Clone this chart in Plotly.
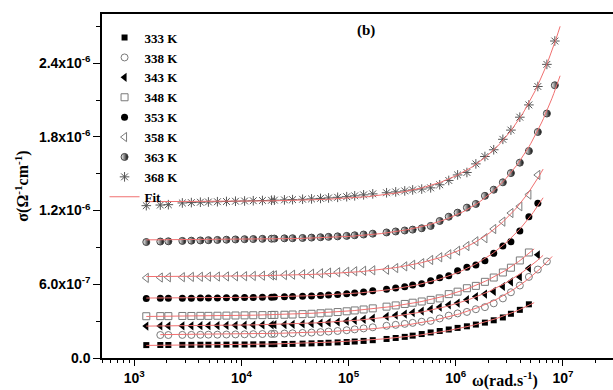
import numpy as np
import plotly.graph_objects as go

# angular frequency grid (rad/s)
omega = [1295, 1750, 2080, 2810, 3410, 4140, 4920, 5970, 7250, 8800,
         1.07e4, 1.29e4, 1.57e4, 1.91e4, 2.03e4, 2.52e4, 3.0e4, 3.72e4, 4.51e4, 5.47e4,
         6.5e4, 7.9e4, 9.6e4, 1.14e5, 1.38e5, 1.68e5, 2.26e5, 2.75e5, 3.34e5, 3.96e5,
         4.81e5, 5.83e5, 7.08e5, 8.6e5, 1.04e6, 1.27e6, 1.54e6, 1.87e6, 2.26e6, 2.75e6,
         3.27e6, 3.96e6, 4.81e6, 5.83e6, 7.08e6, 8.4e6]

# conductivity values in units of 1e-7 S/cm, with first grid index of each series
s333 = [1.05, 1.06, 1.06, 1.07, 1.07, 1.08, 1.08, 1.08, 1.09, 1.10, 1.10,
        1.11, 1.12, 1.13, 1.13, 1.14, 1.15, 1.17, 1.19, 1.21, 1.24,
        1.27, 1.30, 1.34, 1.39, 1.45, 1.55, 1.63, 1.72, 1.82,
        1.95, 2.08, 2.20, 2.32, 2.45, 2.58, 2.72, 2.88, 3.07, 3.30, 3.60, 3.92, 4.37]
s338 = [1.87, 1.87, 1.88, 1.88, 1.89, 1.90, 1.90, 1.91, 1.92, 1.93,
        1.94, 1.95, 1.96, 1.97, 1.99, 2.01, 2.04, 2.07, 2.11, 2.15,
        2.20, 2.26, 2.33, 2.41, 2.50, 2.62, 2.70, 2.78, 2.86, 2.95,
        3.02, 3.22, 3.45, 3.63, 3.75, 3.97, 4.14, 4.45, 4.85, 5.35, 5.90, 6.60, 7.20, 7.86]
s343 = [2.60, 2.61, 2.61, 2.62, 2.62, 2.63, 2.63, 2.64, 2.65, 2.66, 2.67,
        2.68, 2.69, 2.70, 2.71, 2.72, 2.74, 2.77, 2.80, 2.84, 2.88,
        2.93, 3.00, 3.07, 3.15, 3.24, 3.38, 3.48, 3.58, 3.70, 3.82,
        3.97, 4.15, 4.33, 4.47, 4.75, 5.00, 5.20, 5.42, 5.82, 6.20, 6.60, 7.30, 8.40]
s348 = [3.40, 3.41, 3.41, 3.42, 3.42, 3.43, 3.43, 3.44, 3.45, 3.46, 3.47,
        3.48, 3.49, 3.50, 3.51, 3.52, 3.54, 3.57, 3.60, 3.64, 3.69,
        3.74, 3.80, 3.87, 3.95, 4.04, 4.18, 4.28, 4.40, 4.50, 4.60,
        4.73, 4.85, 5.20, 5.40, 5.68, 5.87, 6.20, 6.55, 6.96, 7.35, 7.94, 8.59]
s353 = [4.85, 4.86, 4.86, 4.87, 4.87, 4.88, 4.88, 4.89, 4.90, 4.91, 4.92,
        4.93, 4.94, 4.95, 4.96, 4.98, 5.00, 5.02, 5.05, 5.08, 5.12,
        5.17, 5.23, 5.30, 5.38, 5.48, 5.60, 5.70, 5.80, 5.95, 6.05,
        6.29, 6.53, 6.70, 7.10, 7.38, 7.57, 7.92, 8.52, 9.11, 9.46, 10.33, 11.50, 12.60]
s358 = [6.52, 6.55, 6.57, 6.58, 6.60, 6.61, 6.62, 6.63, 6.64, 6.65, 6.66,
        6.68, 6.70, 6.72, 6.73, 6.75, 6.78, 6.82, 6.86, 6.90, 6.95,
        6.98, 7.02, 7.06, 7.10, 7.14, 7.18, 7.32, 7.46, 7.59, 7.72,
        7.98, 8.20, 8.44, 8.73, 9.11, 9.50, 9.75, 10.50, 11.10, 11.80, 12.35, 13.30, 14.90]
s363 = [9.44, 9.48, 9.50, 9.53, 9.55, 9.57, 9.59, 9.61, 9.63, 9.65, 9.67,
        9.68, 9.70, 9.71, 9.72, 9.74, 9.75, 9.77, 9.80, 9.83, 9.86,
        9.90, 9.94, 9.99, 10.05, 10.12, 10.22, 10.30, 10.38, 10.45,
        10.56, 10.75, 11.15, 11.50, 11.83, 12.24, 12.54, 13.20, 13.70, 14.30,
        15.05, 15.90, 16.85, 18.40, 19.90, 22.20]
s368 = [12.40, 12.45, 12.48, 12.62, 12.65, 12.68, 12.70, 12.72, 12.74, 12.76, 12.78,
        12.80, 12.82, 12.84, 12.85, 12.87, 12.89, 12.92, 12.95, 12.99, 13.03,
        13.08, 13.13, 13.20, 13.28, 13.36, 13.45, 13.52, 13.60, 13.68,
        13.75, 13.85, 14.10, 14.45, 14.90, 15.10, 15.80, 16.40, 16.95, 17.80,
        18.55, 19.60, 20.60, 22.10, 23.90, 25.80]

labels = ["333 K", "338 K", "343 K", "348 K", "353 K", "358 K", "363 K", "368 K"]
series = [s333, s338, s343, s348, s353, s358, s363, s368]
start_idx = [0, 1, 0, 0, 0, 0, 0, 0]

ytickvals = [0, 6e-7, 1.2e-6, 1.8e-6, 2.4e-6]
yticktext = ["0.0", "6.0x10<sup>-7</sup>", "1.2x10<sup>-6</sup>",
             "1.8x10<sup>-6</sup>", "2.4x10<sup>-6</sup>"]
xtickvals = [1e3, 1e4, 1e5, 1e6, 1e7]
xticktext = ["10<sup>3</sup>", "10<sup>4</sup>", "10<sup>5</sup>",
             "10<sup>6</sup>", "10<sup>7</sup>"]

GRAY = "#7a7a7a"
styles = [
    dict(symbol="square", size=6, color="black"),
    dict(symbol="circle-open", size=7, color=GRAY, line=dict(width=1, color=GRAY)),
    dict(symbol="triangle-left", size=8, color="black"),
    dict(symbol="square-open", size=7, color=GRAY, line=dict(width=1, color=GRAY)),
    dict(symbol="circle", size=7, color="black"),
    dict(symbol="triangle-left-open", size=8, color=GRAY, line=dict(width=1, color=GRAY)),
    dict(symbol="circle", size=7, color="white",
         gradient=dict(type="horizontal", color="black"), line=dict(width=1, color="#444444")),
    dict(symbol="asterisk-open", size=8, color="#555555", line=dict(width=1, color="#555555")),
]

fig = go.Figure()
fits = []
for lab, vals, i0, st in zip(labels, series, start_idx, styles):
    w = np.array(omega[i0:i0 + len(vals)], dtype=float)
    s = np.array(vals) * 1e-7
    fig.add_trace(go.Scatter(x=w, y=s, mode="markers", name="<b>" + lab + "</b>", marker=st))
    # Jonscher power law fit: sigma = sigma_dc + A * w^n
    best = None
    for n in np.linspace(0.2, 2.0, 361):
        M = np.vstack([np.ones_like(w), w ** n]).T
        coef, *_ = np.linalg.lstsq(M, s, rcond=None)
        r = np.sum((M @ coef - s) ** 2)
        if best is None or r < best[0]:
            best = (r, n, coef)
    _, n, coef = best
    wf = np.logspace(np.log10(w[0]), np.log10(w[-1] * 1.12), 200)
    fits.append((wf, coef[0] + coef[1] * wf ** n))

for k, (wf, sf) in enumerate(fits):
    fig.add_trace(go.Scatter(x=wf, y=sf, mode="lines", name="<b>Fit</b>",
                             line=dict(color="#f07070", width=1),
                             showlegend=(k == 0)))

minor_x = [m * 10 ** d for d in range(2, 8) for m in range(2, 10)]

fig.update_layout(
    width=613, height=390,
    margin=dict(l=102, r=0, t=14, b=32),
    paper_bgcolor="white", plot_bgcolor="white",
    showlegend=True,
    legend=dict(x=0.005, y=0.975, xanchor="left", yanchor="top",
                bgcolor="rgba(0,0,0,0)", borderwidth=0,
                font=dict(family="Liberation Serif", size=13, color="black"),
                itemwidth=30, tracegroupgap=0),
    font=dict(family="Liberation Sans", color="black"),
)
fig.update_xaxes(type="log", range=[2.699, 7.467],
                 tickvals=xtickvals, ticktext=["<b>" + t + "</b>" for t in xticktext],
                 ticks="outside", ticklen=6, tickwidth=1.2, tickcolor="black",
                 minor=dict(tickvals=minor_x, ticks="outside", ticklen=3, tickcolor="black", tickwidth=1),
                 showline=True, linecolor="black", linewidth=1.5, mirror=True,
                 showgrid=False, zeroline=False,
                 tickfont=dict(family="Liberation Sans", size=14, color="black"))
fig.update_yaxes(range=[0, 2.8e-6],
                 tickvals=ytickvals, ticktext=["<b>" + t + "</b>" for t in yticktext],
                 ticks="outside", ticklen=7, tickwidth=1.2, tickcolor="black",
                 minor=dict(dtick=3e-7, ticks="outside", ticklen=4, tickcolor="black", tickwidth=1),
                 showline=True, linecolor="black", linewidth=1.5,
                 showgrid=False, zeroline=False,
                 tickfont=dict(family="Liberation Sans", size=14, color="black"),
                 title=dict(text="<b>σ(Ω<sup>-1</sup>cm<sup>-1</sup>)</b>",
                            font=dict(family="Liberation Serif", size=16, color="black"),
                            standoff=6))

fig.add_annotation(text="<b>ω(rad.s<sup>-1</sup>)</b>", xref="paper", yref="paper",
                   x=(505 - 102) / 511, y=-0.062, xanchor="center", yanchor="middle",
                   showarrow=False, font=dict(family="Liberation Serif", size=16, color="black"))
fig.add_annotation(text="<b>(b)</b>", xref="paper", yref="paper",
                   x=(366 - 102) / 511, y=(358 - 31) / 344, xanchor="center", yanchor="middle",
                   showarrow=False, font=dict(family="Liberation Serif", size=15, color="black"))

fig.write_html("out.html")
